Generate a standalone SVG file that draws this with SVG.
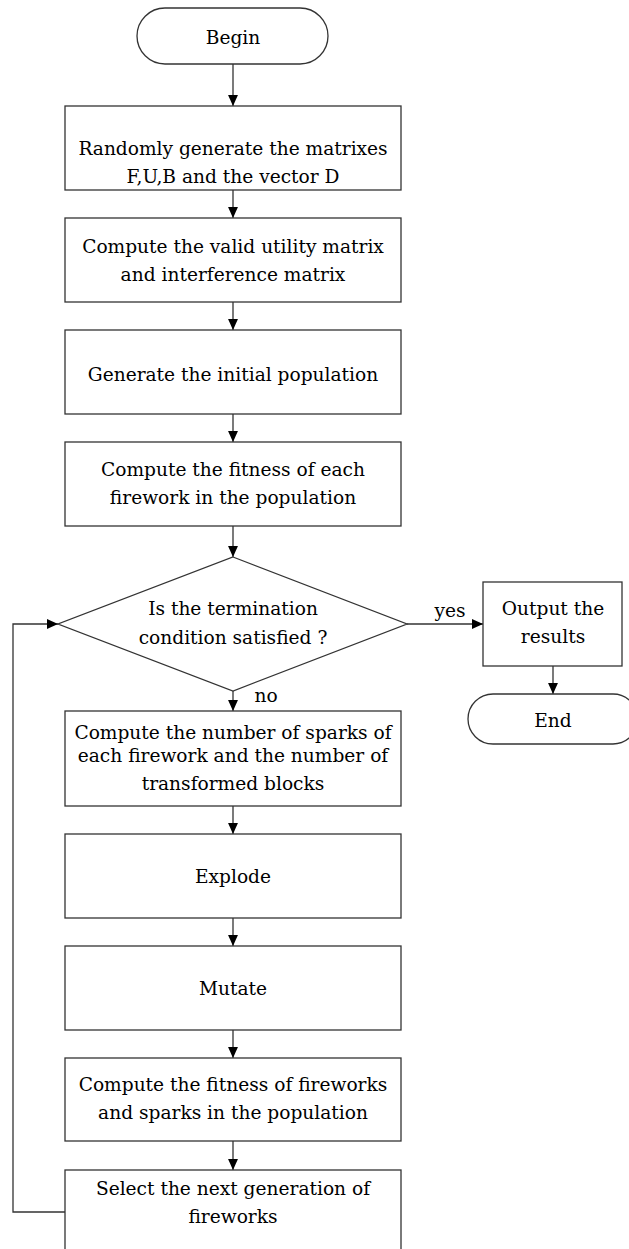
<svg xmlns="http://www.w3.org/2000/svg" width="629" height="1249" viewBox="0 0 629 1249">
<defs>
<marker id="arr" viewBox="0 0 10 10" refX="10" refY="5" markerWidth="11" markerHeight="11" markerUnits="userSpaceOnUse" orient="auto">
<path d="M0,0.5 L10,5 L0,9.5 z" fill="#000"/>
</marker>
</defs>
<style>
.shape{fill:#fff;stroke:#333;stroke-width:1.3}
.conn{fill:none;stroke:#333;stroke-width:1.3}
text{font-family:"DejaVu Serif","Liberation Serif",serif;font-size:18.6px;fill:#000;text-anchor:middle}
</style>
<rect width="629" height="1249" fill="#fff"/>
<g id="connectors">
<line class="conn" x1="233" y1="64" x2="233" y2="106" marker-end="url(#arr)"/>
<line class="conn" x1="233" y1="190" x2="233" y2="218" marker-end="url(#arr)"/>
<line class="conn" x1="233" y1="302" x2="233" y2="330" marker-end="url(#arr)"/>
<line class="conn" x1="233" y1="414" x2="233" y2="442" marker-end="url(#arr)"/>
<line class="conn" x1="233" y1="526" x2="233" y2="557" marker-end="url(#arr)"/>
<line class="conn" x1="407" y1="624" x2="483" y2="624" marker-end="url(#arr)"/>
<line class="conn" x1="553" y1="666" x2="553" y2="694" marker-end="url(#arr)"/>
<line class="conn" x1="233" y1="691" x2="233" y2="711" marker-end="url(#arr)"/>
<line class="conn" x1="233" y1="806" x2="233" y2="834" marker-end="url(#arr)"/>
<line class="conn" x1="233" y1="918" x2="233" y2="946" marker-end="url(#arr)"/>
<line class="conn" x1="233" y1="1030" x2="233" y2="1058" marker-end="url(#arr)"/>
<line class="conn" x1="233" y1="1141" x2="233" y2="1170" marker-end="url(#arr)"/>
<polyline class="conn" points="65,1212 13,1212 13,624 58,624" marker-end="url(#arr)"/>
<text x="450" y="617">yes</text>
<text x="266" y="702">no</text>
</g>
<g id="begin">
<rect class="shape" x="137" y="8" width="191" height="56" rx="28" ry="28"/>
<text x="233" y="44">Begin</text>
</g>
<g id="gen-matrices">
<rect class="shape" x="65" y="106" width="336" height="84"/>
<text x="233" y="155">Randomly generate the matrixes</text>
<text x="233" y="183">F,U,B and the vector D</text>
</g>
<g id="compute-valid">
<rect class="shape" x="65" y="218" width="336" height="84"/>
<text x="233" y="253">Compute the valid utility matrix</text>
<text x="233" y="281">and interference matrix</text>
</g>
<g id="init-pop">
<rect class="shape" x="65" y="330" width="336" height="84"/>
<text x="233" y="381">Generate the initial population</text>
</g>
<g id="fitness-each">
<rect class="shape" x="65" y="442" width="336" height="84"/>
<text x="233" y="476">Compute the fitness of each</text>
<text x="233" y="504">firework in the population</text>
</g>
<g id="decision">
<polygon class="shape" points="233,557 407,624 233,691 58,624"/>
<text x="233" y="615">Is the termination</text>
<text x="233" y="644">condition satisfied ?</text>
</g>
<g id="output">
<rect class="shape" x="483" y="582" width="139" height="84"/>
<text x="553" y="615">Output the</text>
<text x="553" y="643">results</text>
</g>
<g id="end">
<rect class="shape" x="468" y="694" width="170" height="50" rx="25" ry="25"/>
<text x="553" y="727">End</text>
</g>
<g id="sparks-count">
<rect class="shape" x="65" y="711" width="336" height="95"/>
<text x="233" y="739">Compute the number of sparks of</text>
<text x="233" y="762">each firework and the number of</text>
<text x="233" y="790">transformed blocks</text>
</g>
<g id="explode">
<rect class="shape" x="65" y="834" width="336" height="84"/>
<text x="233" y="883">Explode</text>
</g>
<g id="mutate">
<rect class="shape" x="65" y="946" width="336" height="84"/>
<text x="233" y="995">Mutate</text>
</g>
<g id="fitness-all">
<rect class="shape" x="65" y="1058" width="336" height="83"/>
<text x="233" y="1091">Compute the fitness of fireworks</text>
<text x="233" y="1119">and sparks in the population</text>
</g>
<g id="select">
<rect class="shape" x="65" y="1170" width="336" height="84"/>
<text x="233" y="1195">Select the next generation of</text>
<text x="233" y="1223">fireworks</text>
</g>
</svg>
